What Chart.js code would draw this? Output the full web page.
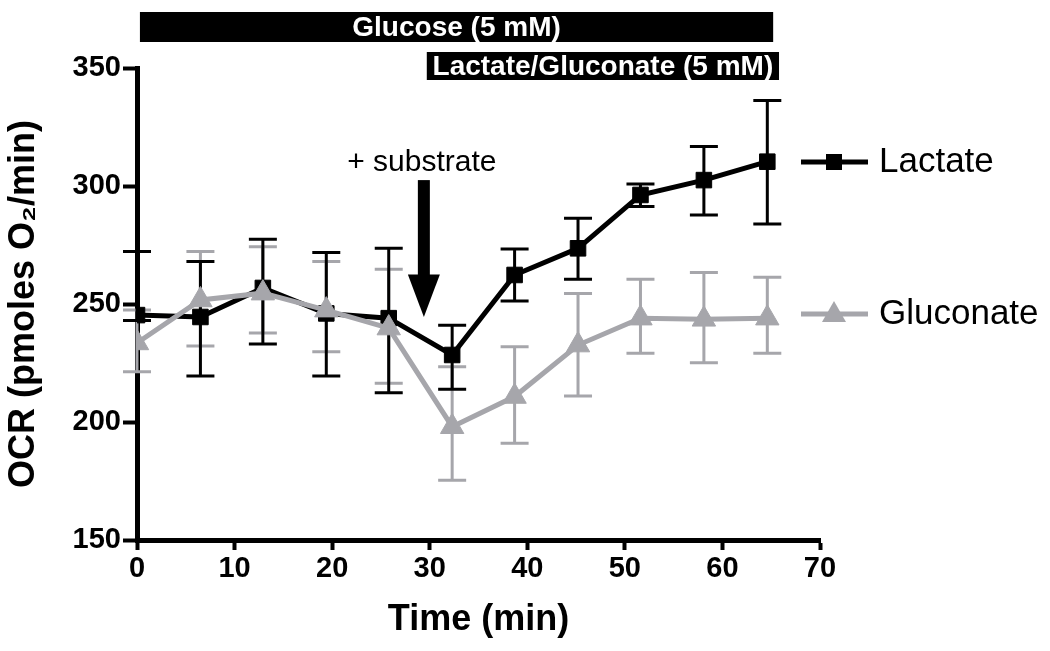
<!DOCTYPE html>
<html>
<head>
<meta charset="utf-8">
<title>OCR - Lactate / Gluconate</title>
<script src="https://cdn.jsdelivr.net/npm/chart.js@4.4.1/dist/chart.umd.min.js"></script>
<style>
    html, body { margin: 0; padding: 0; background: #fff; }
    canvas { display: block; }
</style>
</head>
<body>
<canvas id="grafico" width="1050" height="651"></canvas>
<script>
// ---------- Datos ----------
const tiempos = [0, 6.5, 12.9, 19.4, 25.8, 32.3, 38.7, 45.2, 51.6, 58.1, 64.6];

const lactato     = [245.3, 244.5, 256.8, 246.0, 244.0, 228.4, 262.3, 273.6, 296.2, 302.5, 310.3];
const lactatoAlto = [272.2, 268.0, 277.4, 271.8, 273.6, 241.0, 273.3, 286.3, 300.8, 316.7, 336.2];
const lactatoBajo = [243.0, 219.5, 233.0, 219.5, 212.4, 213.9, 251.3, 260.5, 291.3, 287.7, 283.9];

const gluconato     = [233.5, 251.7, 254.6, 247.4, 239.8, 198.0, 210.8, 232.6, 244.0, 243.5, 244.0];
const gluconatoAlto = [247.5, 272.2, 274.3, 268.0, 264.7, 223.4, 231.9, 254.5, 260.5, 263.3, 261.3];
const gluconatoBajo = [221.3, 232.2, 237.7, 229.8, 216.4, 175.3, 191.0, 211.0, 229.1, 225.1, 229.1];

const ticksX = [0, 10, 20, 30, 40, 50, 60, 70];
const ticksY = [150, 200, 250, 300, 350];

// barras de condicion (min)
const glucosaRango = [0.3, 65.2];
const sustratoRango = [29.7, 65.8];
const flechaT = 29.4;

const NEGRO = '#000000';
const GRIS = '#a6a6ab';
const FUENTE = '"Liberation Sans", Arial, Helvetica, sans-serif';

const puntos = (ys) => tiempos.map((t, i) => ({ x: t, y: ys[i] }));

const series = [
    { label: 'Gluconate', color: GRIS, alto: gluconatoAlto, bajo: gluconatoBajo },
    { label: 'Lactate', color: NEGRO, alto: lactatoAlto, bajo: lactatoBajo },
];

// ---------- Plugin: barras de error, anotaciones y leyenda ----------
const extras = {
    id: 'extras',
    beforeDatasetsDraw(chart) {
        const { ctx, scales: { x, y } } = chart;
        ctx.save();
        series.forEach(s => {
            ctx.strokeStyle = s.color;
            ctx.lineWidth = 3;
            tiempos.forEach((t, i) => {
                const px = x.getPixelForValue(t);
                const top = y.getPixelForValue(s.alto[i]);
                const bot = y.getPixelForValue(s.bajo[i]);
                ctx.beginPath();
                ctx.moveTo(px, top); ctx.lineTo(px, bot);
                ctx.moveTo(px - 14, top); ctx.lineTo(px + 14, top);
                ctx.moveTo(px - 14, bot); ctx.lineTo(px + 14, bot);
                ctx.stroke();
            });
        });
        ctx.restore();
    },
    afterDraw(chart) {
        const { ctx, scales: { x, y } } = chart;
        ctx.save();

        // barras superiores
        const barra = (rango, y0, h, texto) => {
            const x0 = x.getPixelForValue(rango[0]);
            const x1 = x.getPixelForValue(rango[1]);
            ctx.fillStyle = NEGRO;
            ctx.fillRect(x0, y0, x1 - x0, h);
            ctx.fillStyle = '#fff';
            ctx.font = 'bold 28px ' + FUENTE;
            ctx.textAlign = 'center';
            ctx.textBaseline = 'middle';
            ctx.fillText(texto, (x0 + x1) / 2, y0 + h / 2 + 1);
        };
        barra(glucosaRango, 12, 30, 'Glucose (5 mM)');
        barra(sustratoRango, 52, 28, 'Lactate/Gluconate (5 mM)');

        // flecha "+ substrate"
        const ax = x.getPixelForValue(flechaT);
        const yIni = y.getPixelForValue(302.5);
        const yCab = y.getPixelForValue(262.5);
        const yPunta = y.getPixelForValue(244.5);
        ctx.fillStyle = NEGRO;
        ctx.fillRect(ax - 6, yIni, 12, yCab - yIni + 1);
        ctx.beginPath();
        ctx.moveTo(ax - 16, yCab);
        ctx.lineTo(ax + 16, yCab);
        ctx.lineTo(ax, yPunta);
        ctx.closePath();
        ctx.fill();
        ctx.font = '30px ' + FUENTE;
        ctx.textAlign = 'center';
        ctx.textBaseline = 'middle';
        ctx.fillText('+ substrate', ax - 2, yIni - 17);

        // leyenda
        const leyenda = [
            { label: 'Lactate', color: NEGRO, forma: 'rect', yy: 162 },
            { label: 'Gluconate', color: GRIS, forma: 'triangle', yy: 314 },
        ];
        leyenda.forEach(l => {
            ctx.strokeStyle = l.color;
            ctx.fillStyle = l.color;
            ctx.lineWidth = 5;
            ctx.beginPath();
            ctx.moveTo(801, l.yy); ctx.lineTo(868, l.yy);
            ctx.stroke();
            if (l.forma === 'rect') {
                ctx.fillRect(834 - 8, l.yy - 8, 16, 16);
            } else {
                ctx.beginPath();
                ctx.moveTo(834, l.yy - 13);
                ctx.lineTo(834 + 12, l.yy + 8);
                ctx.lineTo(834 - 12, l.yy + 8);
                ctx.closePath();
                ctx.fill();
            }
            ctx.fillStyle = NEGRO;
            ctx.font = '35px ' + FUENTE;
            ctx.textAlign = 'left';
            ctx.textBaseline = 'middle';
            ctx.fillText(l.label, 879, l.yy);
        });

        ctx.restore();
    }
};

// ---------- Grafico ----------
Chart.defaults.font.family = FUENTE;
Chart.defaults.color = NEGRO;

new Chart(document.getElementById('grafico'), {
    type: 'scatter',
    data: {
        datasets: [
            {
                label: 'Gluconate', data: puntos(gluconato), order: 0,
                showLine: true, borderColor: GRIS, backgroundColor: GRIS,
                borderWidth: 5, pointStyle: 'triangle', pointRadius: 13.5,
                pointBorderWidth: 1, tension: 0
            },
            {
                label: 'Lactate', data: puntos(lactato), order: 1,
                showLine: true, borderColor: NEGRO, backgroundColor: NEGRO,
                borderWidth: 5, pointStyle: 'rect', pointRadius: 11,
                pointBorderWidth: 1, tension: 0
            }
        ]
    },
    options: {
        responsive: false, devicePixelRatio: 1, animation: false,
        layout: { padding: { top: 68, right: 230, bottom: 0, left: 0 } },
        plugins: { legend: { display: false }, tooltip: { enabled: false } },
        scales: {
            x: {
                type: 'linear', min: 0, max: 70,
                afterBuildTicks: (s) => { s.ticks = ticksX.map(v => ({ value: v })); },
                afterFit: (s) => { s.height = 111; },
                border: { display: true, color: NEGRO, width: 5 },
                grid: { drawOnChartArea: false, drawTicks: true, tickLength: 10, tickWidth: 4, tickColor: NEGRO },
                ticks: { font: { size: 29, weight: 'bold' }, padding: 2, maxRotation: 0 },
                title: {
                    display: true, text: 'Time (min)',
                    font: { size: 36, weight: 'bold' }, padding: { top: 0, bottom: 9 }
                }
            },
            y: {
                type: 'linear', min: 150, max: 350,
                afterBuildTicks: (s) => { s.ticks = ticksY.map(v => ({ value: v })); },
                afterFit: (s) => { s.width = 137; },
                border: { display: true, color: NEGRO, width: 5 },
                grid: { drawOnChartArea: false, drawTicks: true, tickLength: 14, tickWidth: 4, tickColor: NEGRO },
                ticks: { font: { size: 29, weight: 'bold' }, padding: 2 },
                title: {
                    display: true, text: 'OCR (pmoles O\u2082/min)',
                    font: { size: 36, weight: 'bold' }, padding: { top: 2, bottom: 0 }
                }
            }
        }
    },
    plugins: [extras]
});
</script>
</body>
</html>
